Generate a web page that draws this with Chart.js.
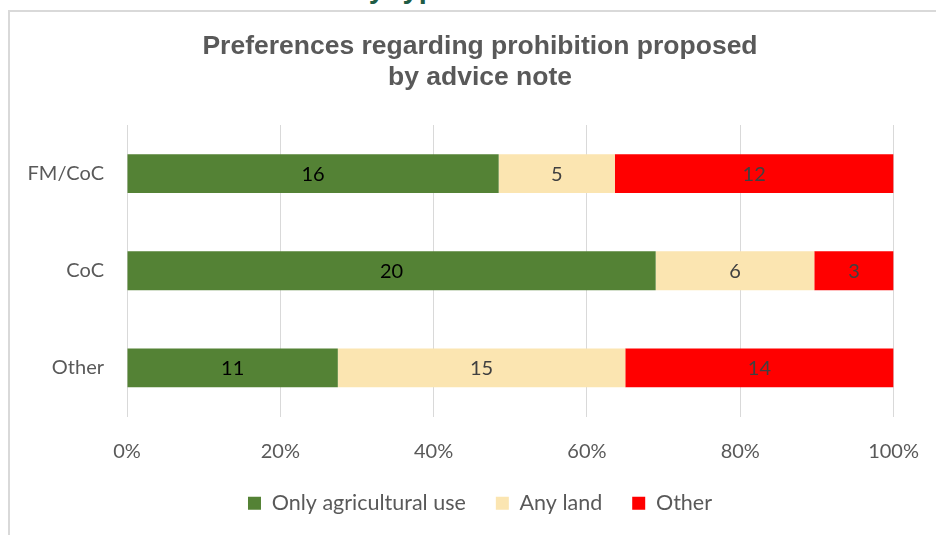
<!DOCTYPE html>
<html>
<head>
<meta charset="utf-8">
<script src="https://cdn.jsdelivr.net/npm/chart.js@4/dist/chart.umd.min.js"></script>
<style>
  html, body { margin: 0; padding: 0; background: #fff; overflow: hidden; }
  #wrap { position: relative; width: 936px; height: 535px; overflow: hidden; }
  #heading {
    position: absolute; left: 351px; top: -26px;
    font: bold 29px "Liberation Sans", Arial, sans-serif; line-height: 29px;
    color: #1f5c45; white-space: nowrap;
  }
  #frame {
    position: absolute; left: 8px; top: 10px; width: 1000px; height: 600px;
    border-left: 2px solid #d9d9d9; border-top: 2px solid #d9d9d9;
  }
  #pref_chart { position: absolute; left: 0; top: 0; }
</style>
</head>
<body>
<div id="wrap">
  <div id="heading">by type</div>
  <div id="frame"></div>
  <canvas id="pref_chart" width="942" height="535"></canvas>
</div>
<script>
var categories = ["FM/CoC", "CoC", "Other"];
var only_agricultural = [16, 20, 11];
var any_land = [5, 6, 15];
var other_pref = [12, 3, 14];
var pct_ticks = [0, 20, 40, 60, 80, 100];

var series_names = ["Only agricultural use", "Any land", "Other"];
var series_colors = ["#548235", "#fbe5b1", "#ff0000"];
var label_colors = ["#000000", "#404040", "#404040"];

var counts = [only_agricultural, any_land, other_pref];

// each row is drawn as a share of its own total (100% stacked)
function row_totals(){
  return categories.map(function(c, i){
    return only_agricultural[i] + any_land[i] + other_pref[i];
  });
}
function to_percent(series){
  var totals = row_totals();
  return series.map(function(v, i){ return v / totals[i] * 100; });
}

// writes the raw count in the middle of each segment
var countLabels = {
  id: "countLabels",
  afterDatasetsDraw: function(chart){
    var ctx = chart.ctx;
    ctx.save();
    ctx.font = "20px Lato";
    ctx.textAlign = "center";
    ctx.textBaseline = "middle";
    chart.data.datasets.forEach(function(ds, d){
      var meta = chart.getDatasetMeta(d);
      meta.data.forEach(function(bar, i){
        ctx.fillStyle = label_colors[d];
        ctx.fillText(String(counts[d][i]), (bar.x + bar.base) / 2, bar.y + 1);
      });
    });
    ctx.restore();
  }
};

// category names, right aligned against the plot (the built-in ticks get clipped to the axis box)
var categoryLabels = {
  id: "categoryLabels",
  afterDraw: function(chart){
    var ctx = chart.ctx, yscale = chart.scales.y;
    ctx.save();
    ctx.font = "20px Lato";
    ctx.fillStyle = "#595959";
    ctx.textAlign = "right";
    ctx.textBaseline = "middle";
    categories.forEach(function(name, i){
      ctx.fillText(name, chart.chartArea.left - 23, yscale.getPixelForTick(i));
    });
    ctx.restore();
  }
};

var datasets = counts.map(function(series, d){
  return {
    label: series_names[d],
    data: to_percent(series),
    backgroundColor: series_colors[d],
    borderWidth: 0,
    barPercentage: 0.4,
    categoryPercentage: 1
  };
});

var barctx = document.getElementById("pref_chart");
var prefchart = new Chart(barctx, {
  type: "bar",
  data: { labels: categories, datasets: datasets },
  plugins: [countLabels, categoryLabels],
  options: {
    indexAxis: "y",
    responsive: false,
    animation: false,
    layout: { padding: { left: 57, right: 39, top: 0, bottom: 11 } },
    plugins: {
      tooltip: { enabled: false },
      title: {
        display: true,
        text: ["Preferences regarding prohibition proposed", "by advice note"],
        color: "#595959",
        font: { family: "Liberation Sans", size: 26.5, weight: "bold", lineHeight: 31 / 26.5 },
        padding: { top: 31.5, bottom: 31.5 }
      },
      legend: {
        position: "bottom",
        labels: {
          color: "#595959",
          font: { family: "Lato", size: 21.5 },
          boxWidth: 13,
          boxHeight: 13,
          padding: 30
        }
      }
    },
    scales: {
      x: {
        stacked: true,
        min: 0,
        max: 100,
        afterBuildTicks: function(scale){
          scale.ticks = pct_ticks.map(function(v){ return { value: v }; });
        },
        afterFit: function(scale){ scale.height = 46; },
        grid: { color: "#d9d9d9", lineWidth: 1, drawTicks: false },
        border: { display: false },
        ticks: {
          color: "#595959",
          font: { family: "Lato", size: 20 },
          padding: 23,
          callback: function(v){ return v + "%"; }
        }
      },
      y: {
        stacked: true,
        afterFit: function(scale){ scale.width = 70; },
        grid: { display: false },
        border: { display: false },
        ticks: { display: false }
      }
    }
  }
});
</script>
</body>
</html>
